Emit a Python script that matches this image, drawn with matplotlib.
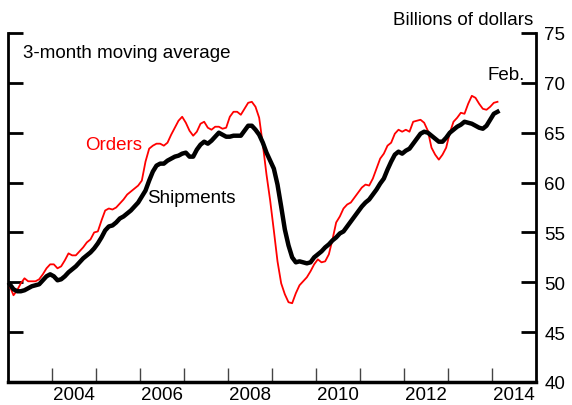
import numpy as np
import matplotlib.pyplot as plt
from matplotlib.ticker import MultipleLocator, FixedLocator, NullFormatter

plt.rcParams['font.family'] = ['Liberation Sans', 'DejaVu Sans']

# monthly data, Jan 2003 - Feb 2014, billions of dollars (3-month moving avg)
start_year = 2003
shipments = [
    49.8, 49.3, 49.1, 49.1, 49.2, 49.4, 49.6, 49.7, 49.8, 50.2, 50.6, 50.8,
    50.6, 50.2, 50.3, 50.6, 51.0, 51.3, 51.6, 52.0, 52.4, 52.7, 53.0, 53.4,
    53.9, 54.5, 55.2, 55.6, 55.7, 56.0, 56.4, 56.6, 56.9, 57.2, 57.6, 58.0,
    58.6, 59.2, 60.2, 61.1, 61.7, 61.9, 61.9, 62.2, 62.4, 62.6, 62.7, 62.9,
    63.0, 62.6, 62.6, 63.3, 63.8, 64.1, 63.9, 64.2, 64.6, 65.0, 64.8, 64.6,
    64.6, 64.7, 64.7, 64.7, 65.2, 65.7, 65.7, 65.3, 64.8, 64.0, 63.0, 62.2,
    61.4, 59.8, 57.6, 55.3, 53.7, 52.5, 52.0, 52.1, 52.0, 51.9, 52.0, 52.5,
    52.8, 53.1, 53.5, 53.8, 54.2, 54.5, 54.9, 55.1, 55.6, 56.1, 56.6, 57.1,
    57.6, 58.0, 58.3, 58.8, 59.3, 59.9, 60.4, 61.3, 62.1, 62.8, 63.1, 62.9,
    63.2, 63.4, 63.9, 64.4, 64.9, 65.1, 65.0, 64.7, 64.4, 64.1, 64.1, 64.5,
    65.0, 65.3, 65.6, 65.8, 66.1, 66.0, 65.9, 65.7, 65.5, 65.4, 65.7, 66.3,
    66.9, 67.1,
]
orders = [
    49.6, 48.7, 49.2, 49.9, 50.4, 50.1, 50.1, 50.1, 50.3, 50.8, 51.4, 51.8,
    51.8, 51.4, 51.6, 52.2, 52.9, 52.7, 52.7, 53.1, 53.5, 54.0, 54.3, 55.0,
    55.1, 56.2, 57.2, 57.4, 57.3, 57.5, 57.9, 58.3, 58.8, 59.1, 59.4, 59.7,
    60.2, 62.1, 63.4, 63.7, 63.9, 63.9, 63.7, 64.0, 64.8, 65.5, 66.2, 66.6,
    66.0, 65.2, 64.7, 65.1, 65.9, 66.1, 65.5, 65.3, 65.6, 65.6, 65.4, 65.5,
    66.6, 67.1, 67.1, 66.8, 67.4, 68.0, 68.1, 67.6, 66.5, 63.8, 60.8, 58.2,
    55.2, 52.1, 49.9, 48.8, 48.0, 47.9, 48.9, 49.7, 50.1, 50.5, 51.1, 51.8,
    52.3, 52.0, 52.1, 52.8, 54.3, 56.0, 56.6, 57.4, 57.8, 58.0, 58.5, 59.0,
    59.5, 59.8, 59.7, 60.4, 61.4, 62.4, 62.9, 63.7, 64.0, 64.9, 65.3, 65.1,
    65.3, 65.1, 66.1, 66.2, 66.3, 66.0, 65.2, 63.5, 62.8, 62.3, 62.8, 63.5,
    65.0, 66.1, 66.5, 67.0, 66.9, 67.9, 68.7, 68.5, 67.9, 67.4, 67.3, 67.6,
    68.0, 68.1,
]
year_labels = ['2004', '2006', '2008', '2010', '2012', '2014']

months = np.arange(len(shipments))
t = start_year + (months + 0.5) / 12

fig = plt.figure(figsize=(5.72, 4.06), dpi=100)
ax = fig.add_axes([8 / 572, 23 / 406, 528 / 572, 349 / 406])

ax.plot(t, orders, color='#ff0000', lw=1.3, clip_on=False, zorder=3)
ax.plot(t, shipments, color='black', lw=3.2, clip_on=False, zorder=4)

ax.set_xlim(2003, 2015)
ax.set_ylim(40, 75)

# spines
ax.spines['top'].set_visible(False)
for s in ('left', 'right'):
    ax.spines[s].set_linewidth(2)
ax.spines['bottom'].set_linewidth(2.5)

# y ticks on both sides, labels only on right
ax.yaxis.set_major_locator(MultipleLocator(5))
ax.tick_params(axis='y', which='major', direction='in', length=10.5, width=2,
               left=True, right=True, labelleft=False, labelright=True,
               labelsize=13.5, pad=6)
ax.yaxis.get_major_ticks()[-1].tick1line.set_markersize(16.5)
ax.yaxis.get_major_ticks()[-1].tick2line.set_markersize(16.5)

# x: ticks at year boundaries, labels centered between
ax.xaxis.set_major_locator(FixedLocator(np.arange(2004, 2015)))
ax.xaxis.set_major_formatter(NullFormatter())
ax.xaxis.set_minor_locator(FixedLocator([int(y) + 0.5 for y in year_labels]))
ax.set_xticklabels(year_labels, minor=True)
ax.tick_params(axis='x', which='major', direction='in', length=10, width=1,
               color='#444444')
ax.tick_params(axis='x', which='minor', length=0, labelsize=13.5, pad=3)

fs = 13.5
ax.text(2003 + 15 / 44, 40 + (383 - 58) / 9.97, '3-month moving average',
        fontsize=fs, ha='left', va='baseline')
ax.text(2003 + 525 / 44, 40 + (383 - 25) / 9.97, 'Billions of dollars',
        fontsize=fs, ha='right', va='baseline', clip_on=False)
ax.text(2004.75, 63.37, 'Orders', color='#ff0000', fontsize=fs,
        ha='left', va='baseline')
ax.text(2006.16, 58.05, 'Shipments', color='black', fontsize=fs,
        ha='left', va='baseline')
ax.text(2013.89, 70.39, 'Feb.', color='black', fontsize=fs,
        ha='left', va='baseline')

fig.savefig('out.png', dpi=100)
